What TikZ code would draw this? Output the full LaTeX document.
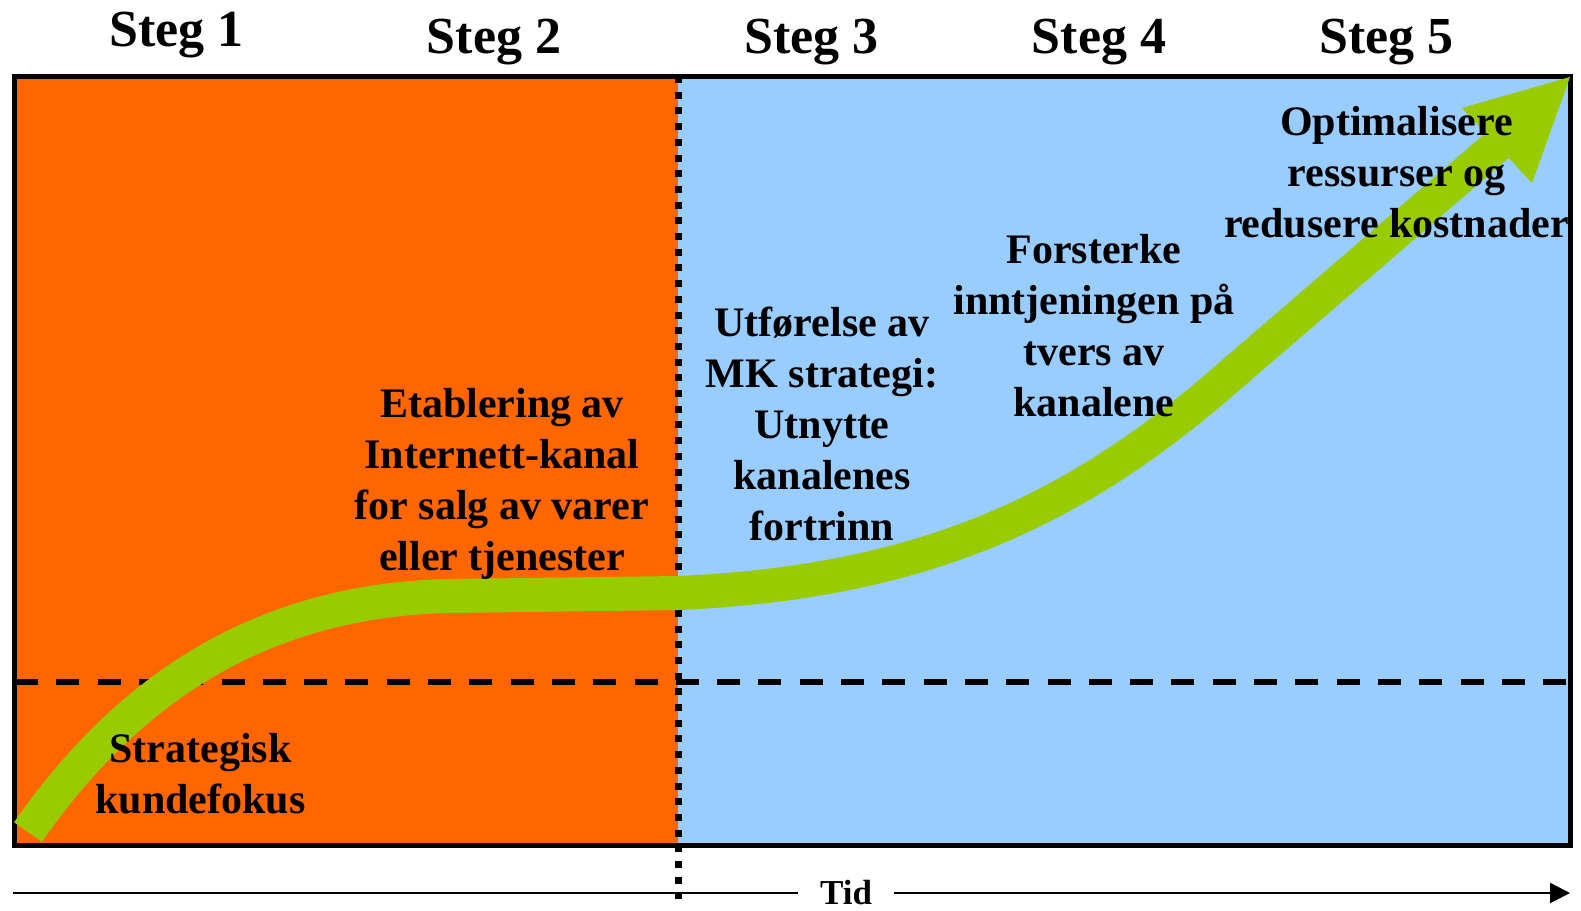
\documentclass[tikz,border=0pt]{standalone}
\usepackage{fontspec}
\setmainfont{Liberation Serif}
\usetikzlibrary{arrows.meta}
\definecolor{stegorange}{HTML}{FF6600}
\definecolor{stegblue}{HTML}{99CCFF}
\definecolor{steggreen}{HTML}{99CC00}
\begin{document}
\begin{tikzpicture}[x=1pt,y=-1pt,
   steglabel/.style={font=\fontsize{52}{60}\selectfont\bfseries,anchor=base,inner sep=0pt},
   phase/.style={font=\fontsize{42}{51}\selectfont\bfseries,align=center,inner sep=0pt}]
   \useasboundingbox (0,0) rectangle (1581,910);
   % background halves
   \fill[stegorange] (14,76) rectangle (678,845);
   \fill[stegblue] (678,76) rectangle (1570,845);
   \draw[line width=5.5pt,dash pattern=on 23pt off 18.3pt] (15,682) -- (1570,682);
   \draw[line width=7pt,dash pattern=on 7pt off 8.7pt] (678.5,76) -- (678.5,902);
   \draw[line width=5pt] (14,76) rectangle (1570,845);
  %
   \draw[steggreen,line width=34pt] (28,832) .. controls (120,700) and (250,600) .. (450,596)
      -- (678,593) .. controls (930,582) and (1082,506) .. (1232,374) -- (1500,143);
   \fill[steggreen] (1462,108) -- (1570,77) -- (1532,183) -- cycle;
  %
   \node[steglabel] (steg1) at (176.5,46) {Steg 1};
   \node[steglabel] (steg2) at (494,53) {Steg 2};
   \node[steglabel] (steg3) at (811.7,53) {Steg 3};
   \node[steglabel] (steg4) at (1099,53) {Steg 4};
   \node[steglabel] (steg5) at (1386.4,53) {Steg 5};
  %
   \node[phase] (fase1) at (200.6,774) {Strategisk\\kundefokus};
   \node[phase] (fase2) at (502,483.5) {Etablering av\\Internett-kanal\\for salg av varer\\eller tjenester};
   \node[phase] (fase3) at (822,424) {Utførelse av\\MK strategi:\\Utnytte\\kanalenes\\fortrinn};
   \node[phase] (fase4) at (1094,326) {Forsterke\\inntjeningen på\\tvers av\\kanalene};
   \node[phase] (fase5) at (1396.5,172.4) {Optimalisere\\ressurser og\\redusere kostnader};
  %
   \node[font=\fontsize{35}{40}\selectfont\bfseries,inner xsep=22pt,inner ysep=0pt] (tid) at (846,893) {Tid};
   \coordinate (axL) at (13,893);
   \coordinate (axR) at (1570,893);
   \draw[line width=2.5pt] (axL) -- (tid);
   \draw[line width=2.5pt,-{Triangle[length=20pt,width=20pt]}] (tid) -- (axR);
\end{tikzpicture}
\end{document}
